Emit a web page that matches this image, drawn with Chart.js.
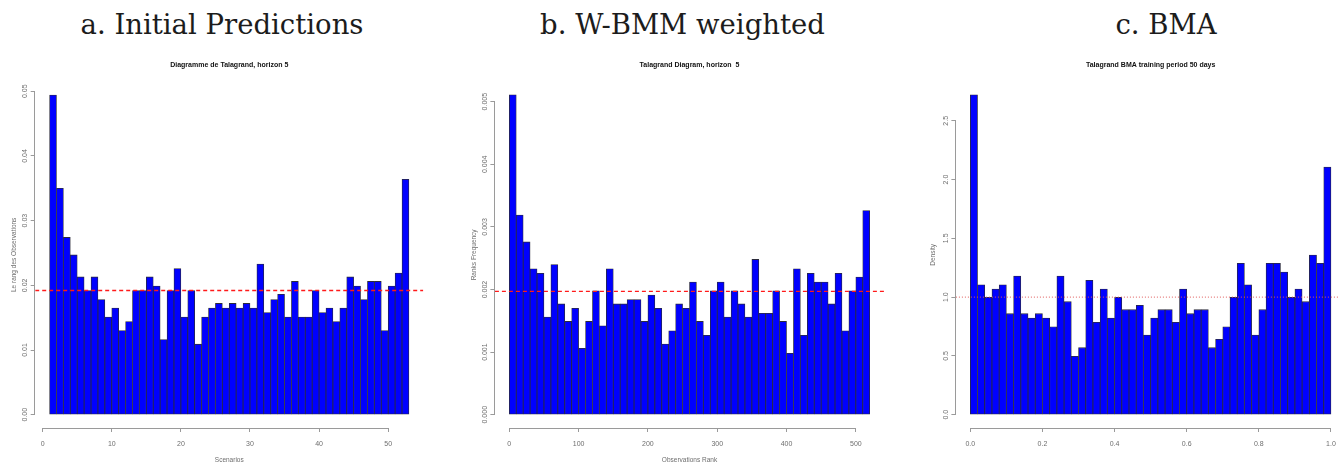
<!DOCTYPE html>
<html>
<head>
<meta charset="utf-8">
<script src="https://cdn.jsdelivr.net/npm/chart.js@4.4.1/dist/chart.umd.min.js"></script>
<style>
  html, body { margin: 0; padding: 0; background: #fff; }
  body { width: 1339px; height: 464px; overflow: hidden; position: relative; }
  canvas { position: absolute; top: 0; }
  .cap { position: absolute; top: 11px; width: 420px; text-align: center; white-space: nowrap;
         font-family: 'DejaVu Serif', 'Liberation Serif', serif; font-size: 27.5px;
         line-height: 27.5px; color: #1c1c1c; }
</style>
</head>
<body>
<div class="cap" style="left:12px">a. Initial Predictions</div>
<div class="cap" style="left:472.5px">b. W-BMM weighted</div>
<div class="cap" style="left:956px">c. BMA</div>
<canvas id="chartA" width="444" height="470" style="left:0px"></canvas>
<canvas id="chartB" width="465" height="470" style="left:450px"></canvas>
<canvas id="chartC" width="546" height="470" style="left:893px"></canvas>
<script>
// rank histograms (one value per bin)
const freqA = [0.0494, 0.0350, 0.0274, 0.0247, 0.0213, 0.0192, 0.0213, 0.0178, 0.0151, 0.0165,
               0.0130, 0.0144, 0.0192, 0.0192, 0.0213, 0.0199, 0.0116, 0.0192, 0.0226, 0.0151,
               0.0192, 0.0109, 0.0151, 0.0165, 0.0172, 0.0165, 0.0172, 0.0165, 0.0172, 0.0165,
               0.0233, 0.0158, 0.0178, 0.0186, 0.0151, 0.0206, 0.0151, 0.0151, 0.0192, 0.0158,
               0.0165, 0.0144, 0.0165, 0.0213, 0.0199, 0.0178, 0.0206, 0.0206, 0.0130, 0.0199,
               0.0219, 0.0364];
const freqB = [0.00511, 0.00319, 0.00276, 0.00233, 0.00226, 0.00156, 0.00240, 0.00177, 0.00149, 0.00170,
               0.00106, 0.00149, 0.00198, 0.00142, 0.00233, 0.00177, 0.00177, 0.00184, 0.00184, 0.00149,
               0.00191, 0.00170, 0.00113, 0.00134, 0.00177, 0.00170, 0.00212, 0.00149, 0.00127, 0.00198,
               0.00212, 0.00156, 0.00198, 0.00177, 0.00156, 0.00248, 0.00162, 0.00162, 0.00198, 0.00149,
               0.00098, 0.00233, 0.00127, 0.00226, 0.00212, 0.00212, 0.00177, 0.00226, 0.00134, 0.00198,
               0.00220, 0.00326];
const densC = [2.720, 1.105, 0.998, 1.069, 1.105, 0.859, 1.179, 0.859, 0.822, 0.859,
               0.822, 0.748, 1.179, 0.961, 0.496, 0.570, 1.143, 0.786, 1.069, 0.822,
               0.998, 0.893, 0.893, 0.930, 0.678, 0.822, 0.893, 0.893, 0.786, 1.069,
               0.859, 0.893, 0.893, 0.570, 0.641, 0.748, 0.998, 1.287, 1.105, 0.678,
               0.893, 1.287, 1.287, 1.213, 0.998, 1.069, 0.961, 1.358, 1.287, 2.106];

// bins: first edge + width
const binsA = [1, 1];
const binsB = [0, 10];
const binsC = [0, 0.02];

// reference (uniform) levels drawn as red lines
const levelA = 0.0192;
const levelB = 0.00197;
const levelC = 1.0;

const SANS = "'Liberation Sans Narrow', 'Liberation Sans', Arial, sans-serif";
const AXIS_COL = '#9a9a9a';
const TICK_COL = '#6e6e6e';

// R style axes: line only from first to last tick
const rAxisLines = {
  id: 'rAxisLines',
  afterDraw(chart) {
    const { ctx, chartArea, scales: { x, y } } = chart;
    const xt = x.ticks, yt = y.ticks;
    ctx.save();
    ctx.strokeStyle = AXIS_COL;
    ctx.lineWidth = 1;
    ctx.beginPath();
    const by = Math.round(chartArea.bottom) + 0.5;
    ctx.moveTo(x.getPixelForValue(xt[0].value), by);
    ctx.lineTo(x.getPixelForValue(xt[xt.length - 1].value), by);
    const lx = Math.round(chartArea.left) - 0.5;
    ctx.moveTo(lx, y.getPixelForValue(yt[0].value));
    ctx.lineTo(lx, y.getPixelForValue(yt[yt.length - 1].value));
    ctx.stroke();
    ctx.restore();
  }
};

function makeTalagrand(id, o) {
  const bars = o.values.map((v, i) => ({ x: o.bins[0] + o.bins[1] * (i + 0.5), y: v }));
  return new Chart(document.getElementById(id), {
    type: 'bar',
    data: {
      datasets: [
        { type: 'line', data: [{ x: o.xMin, y: o.level }, { x: o.xMax, y: o.level }],
          borderColor: o.lineColor, borderWidth: o.lineWidth, borderDash: o.dash,
          pointRadius: 0, fill: false, order: 0 },
        { type: 'bar', data: bars, backgroundColor: '#0000ff', borderColor: '#2b2b3a',
          borderWidth: 0.8, borderSkipped: false, barPercentage: 1, categoryPercentage: 1,
          order: 1 }
      ]
    },
    options: {
      responsive: false,
      animation: false,
      layout: { padding: { left: o.padLeft, right: o.padRight, top: 0, bottom: 0 } },
      plugins: {
        legend: { display: false },
        tooltip: { enabled: false },
        title: { display: true, text: o.title, color: '#111', fullSize: false,
                 font: { family: SANS, size: 7, weight: 'bold' },
                 padding: { top: 61.1, bottom: 12.7 } }
      },
      scales: {
        x: {
          type: 'linear', min: o.xMin, max: o.xMax, offset: false,
          grid: { display: true, drawOnChartArea: false, drawTicks: true, tickLength: 4.5,
                  color: AXIS_COL, offset: false },
          border: { display: false },
          ticks: { stepSize: o.xStep, includeBounds: false, color: TICK_COL, padding: 7.6,
                   maxRotation: 0, autoSkip: false,
                   font: { family: SANS, size: 7 },
                   callback: v => v.toFixed(o.xDigits) },
          title: { display: !!o.xTitle, text: o.xTitle || '', color: TICK_COL,
                   font: { family: SANS, size: 6.5 }, padding: { top: 0, bottom: 5.4 } },
          afterFit: s => { s.height = 42.5; }
        },
        y: {
          type: 'linear', min: o.yMin, max: o.yMax,
          grid: { display: true, drawOnChartArea: false, drawTicks: true, tickLength: 4.5,
                  color: AXIS_COL },
          border: { display: false },
          ticks: { stepSize: o.yStep, includeBounds: false, color: TICK_COL, padding: o.yTickPad,
                   minRotation: 90, maxRotation: 90, crossAlign: 'center', autoSkip: false,
                   font: { family: SANS, size: 7 },
                   callback: v => v.toFixed(o.yDigits) },
          title: { display: true, text: o.yTitle, color: TICK_COL,
                   font: { family: SANS, size: 6.5 }, padding: { top: o.yTitlePad, bottom: 0 } },
          afterFit: s => { s.width = 30; }
        }
      }
    },
    plugins: [rAxisLines]
  });
}

makeTalagrand('chartA', {
  values: freqA, bins: binsA, level: levelA,
  title: 'Diagramme de Talagrand, horizon 5',
  xTitle: 'Scenarios', yTitle: 'Le rang des Observations',
  xMin: -1.08, xMax: 55.08, yMin: -0.00198, yMax: 0.0514,
  xStep: 10, yStep: 0.01, xDigits: 0, yDigits: 2,
  lineColor: '#ff1a1a', lineWidth: 1.6, dash: [4, 3],
  padLeft: 5.2, padRight: 20.7, yTickPad: -1.2, yTitlePad: 4.9
});

makeTalagrand('chartB', {
  values: freqB, bins: binsB, level: levelB,
  title: 'Talagrand Diagram, horizon  5',
  xTitle: 'Observations Rank', yTitle: 'Ranks Frequency',
  xMin: -20.8, xMax: 540.8, yMin: -0.000204, yMax: 0.005311,
  xStep: 100, yStep: 0.001, xDigits: 0, yDigits: 3,
  lineColor: '#ff1a1a', lineWidth: 1.4, dash: [4, 3],
  padLeft: 14.9, padRight: 30.9, yTickPad: -3.0, yTitlePad: 5.2
});

makeTalagrand('chartC', {
  values: densC, bins: binsC, level: levelC,
  title: 'Talagrand BMA training period 50 days',
  xTitle: '', yTitle: 'Density',
  xMin: -0.04, xMax: 1.04, yMin: -0.109, yMax: 2.828,
  xStep: 0.2, yStep: 0.5, xDigits: 1, yDigits: 1,
  lineColor: '#e05a5a', lineWidth: 1, dash: [1, 2],
  padLeft: 32.9, padRight: 93.6, yTickPad: 0.9, yTitlePad: 3.5
});
</script>
</body>
</html>
